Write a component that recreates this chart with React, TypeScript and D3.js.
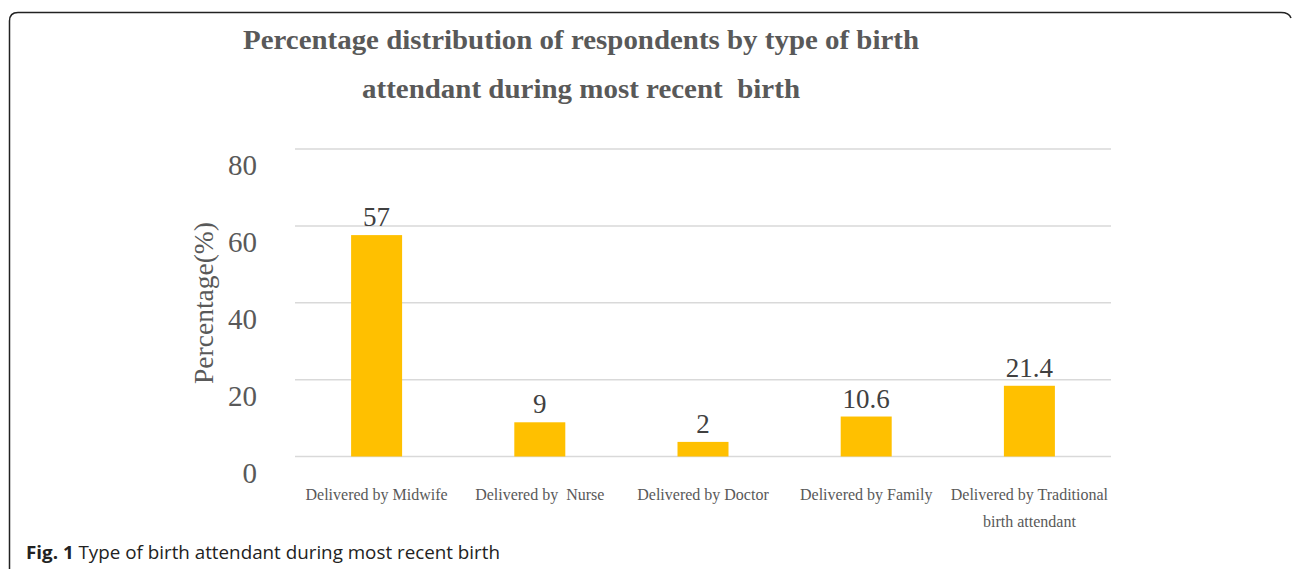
import React from "react";
import * as d3 from "d3";

const categories = [
  ["Delivered by Midwife"],
  ["Delivered by  Nurse"],
  ["Delivered by Doctor"],
  ["Delivered by Family"],
  ["Delivered by Traditional", "birth attendant"],
];
const barValues = [57.6, 8.9, 3.8, 10.4, 18.4];
const valueLabels = ["57", "9", "2", "10.6", "21.4"];
const yTicks = [0, 20, 40, 60, 80];
const titleLines = [
  "Percentage distribution of respondents by type of birth",
  "attendant during most recent  birth",
];

const W = 1292;
const H = 569;
const serif = "'Liberation Serif', 'Times New Roman', serif";

const App: React.FC = () => {
  const x = d3
    .scaleBand<number>()
    .domain(d3.range(categories.length))
    .range([295, 1111])
    .paddingInner(0.6875)
    .paddingOuter(0.34375);
  const y = d3.scaleLinear().domain([0, 80]).range([456.5, 149]);

  return (
    <svg width={W} height={H} style={{ position: "absolute", left: 0, top: 0 }}>
      <rect width={W} height={H} fill="#fff" />
      {/* frame */}
      <path
        d="M9.5,569 L9.5,21 Q9.5,12.5 18,12.5 L1281,12.5 Q1289,12.5 1291,18"
        fill="none"
        stroke="#222"
        strokeWidth={1.5}
      />

      {/* title */}
      <text x={243} y={49} fontFamily={serif} fontWeight="bold" fontSize={28} fill="#595959"
        textLength={676} lengthAdjust="spacingAndGlyphs">
        {titleLines[0]}
      </text>
      <text x={362} y={98} fontFamily={serif} fontWeight="bold" fontSize={28} fill="#595959"
        textLength={438} lengthAdjust="spacingAndGlyphs" style={{ whiteSpace: "pre" }}>
        {titleLines[1]}
      </text>

      {/* gridlines and y ticks */}
      {yTicks.map((t) => (
        <g key={t}>
          <line x1={295} x2={1111} y1={y(t)} y2={y(t)} stroke="#d9d9d9" strokeWidth={1.5} />
          <text x={257} y={y(t) + 26} textAnchor="end" fontFamily={serif} fontSize={29} fill="#595959">
            {t}
          </text>
        </g>
      ))}

      {/* y axis title */}
      <text
        transform={`translate(213, ${303}) rotate(-90)`}
        textAnchor="middle"
        fontFamily={serif}
        fontSize={27.5}
        fill="#595959"
      >
        Percentage(%)
      </text>

      {/* bars */}
      {barValues.map((v, i) => (
        <g key={i}>
          <rect x={x(i)} y={y(v)} width={x.bandwidth()} height={y(0) - y(v)} fill="#FFC000" />
          <text
            x={(x(i) as number) + x.bandwidth() / 2}
            y={y(v) - 9}
            textAnchor="middle"
            fontFamily={serif}
            fontSize={27}
            fill="#404040"
          >
            {valueLabels[i]}
          </text>
        </g>
      ))}

      {/* category labels */}
      {categories.map((lines, i) => (
        <text
          key={i}
          x={(x(i) as number) + x.bandwidth() / 2}
          y={500}
          textAnchor="middle"
          fontFamily={serif}
          fontSize={16}
          fill="#595959"
          style={{ whiteSpace: "pre" }}
        >
          {lines.map((l, j) => (
            <tspan key={j} x={(x(i) as number) + x.bandwidth() / 2} dy={j === 0 ? 0 : 27}>
              {l}
            </tspan>
          ))}
        </text>
      ))}

      {/* caption */}
      <text x={26} y={559} fontFamily="'Open Sans', sans-serif" fontSize={18.5} fill="#222"
        textLength={474} lengthAdjust="spacingAndGlyphs">
        <tspan fontWeight="bold">Fig. 1</tspan> Type of birth attendant during most recent birth
      </text>
    </svg>
  );
};

export default App;
